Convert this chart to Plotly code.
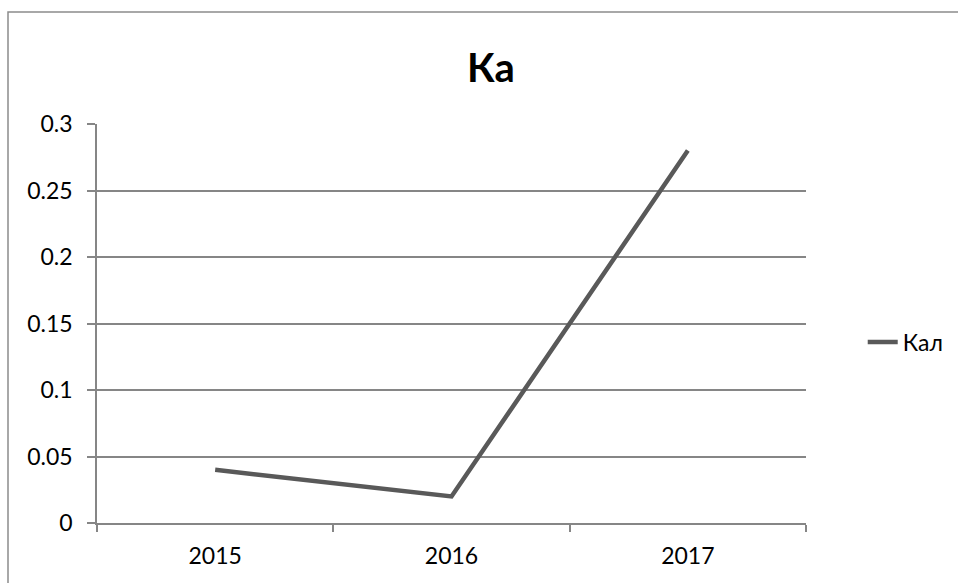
import plotly.graph_objects as go

# Chart data
years = ["2015", "2016", "2017"]
kal_values = [0.04, 0.02, 0.28]
y_ticks = [0, 0.05, 0.1, 0.15, 0.2, 0.25, 0.3]
y_tick_labels = ["0", "0.05", "0.1", "0.15", "0.2", "0.25", "0.3"]

FONT = "Lato, 'Open Sans', sans-serif"
GRID = "#868686"

fig = go.Figure()
fig.add_trace(go.Scatter(
    x=years, y=kal_values, mode="lines", name="Кал",
    line=dict(color="#595959", width=4.5),
))

fig.update_layout(
    width=958, height=583,
    margin=dict(l=97, r=152, t=124, b=60, autoexpand=False),
    paper_bgcolor="white", plot_bgcolor="white",
    font=dict(family=FONT, color="black", size=23),
    title=dict(text="<b>Ка</b>", x=491 / 958, xanchor="center",
               y=1 - 68 / 583, yanchor="middle",
               font=dict(size=40, family=FONT, color="black")),
    showlegend=True,
    legend=dict(x=1.08, xanchor="left", y=(523 - 342) / 399, yanchor="middle",
                font=dict(size=23, family=FONT, color="black"),
                bgcolor="rgba(0,0,0,0)"),
    xaxis=dict(type="category", range=[-0.5, 2.5], tickson="boundaries",
               ticks="outside", ticklen=7, tickcolor=GRID, tickwidth=1.5,
               showline=True, linecolor=GRID, linewidth=1.5,
               showgrid=False, zeroline=False,
               tickfont=dict(size=23), ticklabelstandoff=12),
    yaxis=dict(range=[0, 0.3], tickvals=y_ticks, ticktext=y_tick_labels,
               ticks="outside", ticklen=8, tickcolor=GRID, tickwidth=1.5,
               showline=True, linecolor=GRID, linewidth=1.5,
               showgrid=True, gridcolor=GRID, gridwidth=1.5,
               zeroline=False, tickfont=dict(size=23), ticklabelstandoff=10),
    shapes=[dict(type="rect", xref="paper", yref="paper",
                 x0=(8 - 97) / 709, x1=1.5, y0=-0.5, y1=(523 - 12) / 399,
                 line=dict(color="#8c8c8c", width=1.5), layer="below")],
)

fig.write_html("out.html")
